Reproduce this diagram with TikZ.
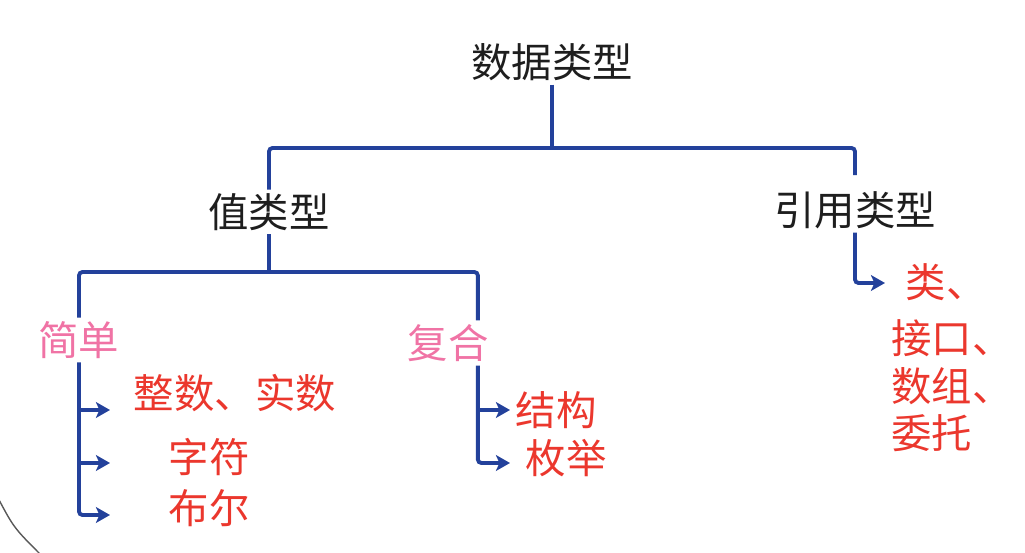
\documentclass[tikz,border=0pt]{standalone}
\usepackage{fontspec}
\newfontfamily\cjk{Noto Sans CJK SC}
\usetikzlibrary{arrows.meta,positioning}
\definecolor{navy}{RGB}{35,65,155}
\definecolor{ink}{RGB}{30,30,30}
\definecolor{rose}{RGB}{240,115,165}
\definecolor{scarlet}{RGB}{235,55,45}
\tikzset{
  >={Stealth[length=8pt,width=9pt,inset=2pt]},
  head/.style={text=ink,font=\cjk\fontsize{23}{28}\selectfont,inner sep=2pt},
  sub/.style={text=rose,font=\cjk\fontsize{23}{28}\selectfont,inner sep=2pt},
  leaf/.style={text=scarlet,font=\cjk\fontsize{23}{27}\selectfont,inner sep=0pt,align=left},
  link/.style={draw=navy,line width=2.2pt,rounded corners=2pt},
  branch/.style={link,->},
}
\begin{document}
\begin{tikzpicture}[x=0.02cm,y=-0.02cm]
  \useasboundingbox (0,0) rectangle (1025,553);
  \node[head] (root) at (552,62) {数据类型};
  \node[head] (val) at (269,212) {值类型};
  \node[head] (ref) at (855,210) {引用类型};
  \node[sub] (simple) at (79,340) {简单};
  \node[sub] (comp) at (448,343) {复合};
  \node[leaf] (int) at (235,393) {整数、实数};
  \node[leaf] (char) at (209,457) {字符};
  \node[leaf] (bool) at (209,508) {布尔};
  \node[leaf] (struct) at (556,410) {结构};
  \node[leaf] (enum) at (566,458) {枚举};
  \node[leaf] (cls) at (946,282) {类、};
  \node[leaf,anchor=west] (rest) at (891,386) {接口、\\数组、\\委托};
  % joints and arrow tips
  \coordinate (top bar) at (552,148);
  \coordinate (val bar) at (269,272);
  \coordinate (int tip) at (110,410);
  \coordinate (char tip) at (110,463);
  \coordinate (bool tip) at (110,515);
  \coordinate (struct tip) at (510,410);
  \coordinate (enum tip) at (510,463);
  \coordinate (cls tip) at (885,283);
  \draw[link] (root) -- (top bar);
  \draw[link,shorten >=7pt] (val.north) |- (top bar) -| (ref.north);
  \draw[link] (val) -- (val bar);
  \draw[link] (simple.north) |- (val bar) -| ([xshift=17pt]comp.north);
  \draw[branch] (simple.south) |- (bool tip);
  \draw[branch] (simple.south |- int tip) -- (int tip);
  \draw[branch] (simple.south |- char tip) -- (char tip);
  \draw[branch] ([xshift=17pt]comp.south) |- (enum tip);
  \draw[branch] ([xshift=17pt]comp.south |- struct tip) -- (struct tip);
  \draw[branch] (ref.south) |- (cls tip);
  \draw[gray!70!black,line width=0.8pt] (-2,498) .. controls (14,528) .. (42,556);
\end{tikzpicture}
\end{document}
